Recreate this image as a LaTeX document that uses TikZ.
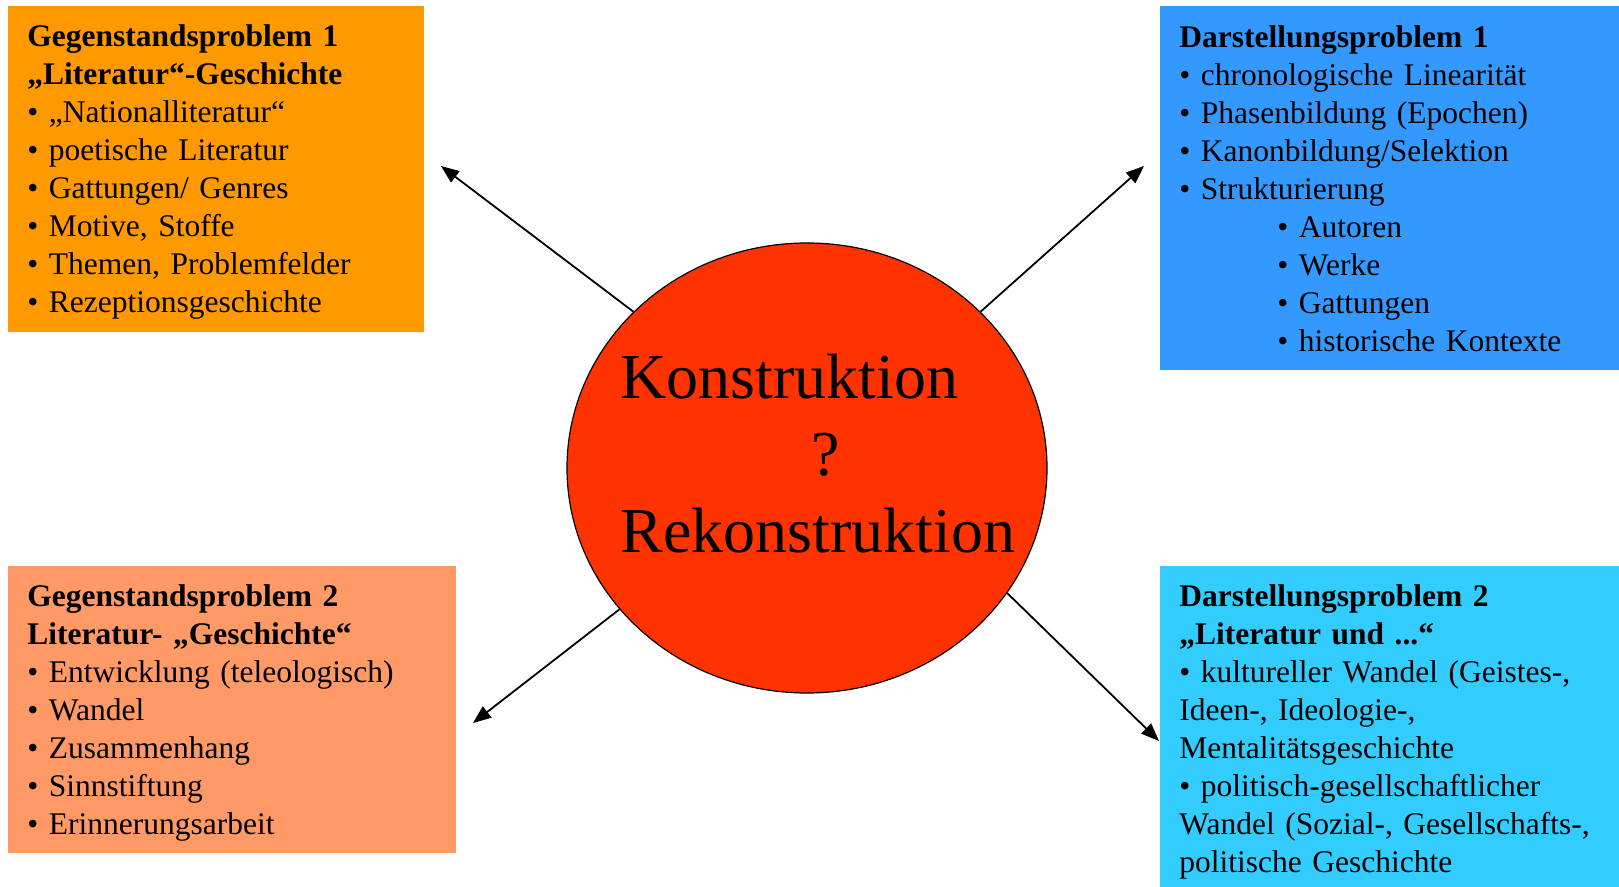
\documentclass[tikz,border=0pt]{standalone}
\usepackage{fontspec}
\setmainfont{Liberation Serif}
\usetikzlibrary{arrows.meta,shapes.geometric}
\definecolor{gpone}{HTML}{FF9900}
\definecolor{gptwo}{HTML}{FF9966}
\definecolor{dpone}{HTML}{3399FF}
\definecolor{dptwo}{HTML}{33CCFF}
\definecolor{kern}{HTML}{FF3300}
\begin{document}
\begin{tikzpicture}[x=0.5pt, y=-0.5pt,
  panel/.style={rectangle, inner sep=0pt, outer sep=0pt, anchor=north west},
  paneltext/.style={anchor=base west, inner sep=0pt, text width=230pt, align=left, font=\fontsize{15.75}{19}\selectfont},
  pfeil/.style={-{Triangle[length=9pt,width=7pt]}, line width=0.9pt}]
\useasboundingbox (0,0) rectangle (1619,887);
% the four panels
\node[panel, fill=gpone, minimum width=208pt, minimum height=163pt] (GP1) at (8,6) {};
\node[panel, fill=dpone, minimum width=229.5pt, minimum height=182pt] (DP1) at (1160,6) {};
\node[panel, fill=gptwo, minimum width=224pt, minimum height=143.5pt] (GP2) at (8,566) {};
\node[panel, fill=dptwo, minimum width=229.5pt, minimum height=160.5pt] (DP2) at (1160,566) {};
\node[paneltext] (GP1text) at (27,47) {\textbf{Gegenstandsproblem 1}\\
  \textbf{„Literatur“-Geschichte}\\
  • „Nationalliteratur“\\
  • poetische Literatur\\
  • Gattungen/ Genres\\
  • Motive, Stoffe\\
  • Themen, Problemfelder\\
  • Rezeptionsgeschichte};
\node[paneltext] (DP1text) at (1179,48) {\textbf{Darstellungsproblem 1}\\
  • chronologische Linearität\\
  • Phasenbildung (Epochen)\\
  • Kanonbildung/Selektion\\
  • Strukturierung\\
  \hspace*{49pt}• Autoren\\
  \hspace*{49pt}• Werke\\
  \hspace*{49pt}• Gattungen\\
  \hspace*{49pt}• historische Kontexte};
\node[paneltext] (GP2text) at (27,607) {\textbf{Gegenstandsproblem 2}\\
  \textbf{Literatur- „Geschichte“}\\
  • Entwicklung (teleologisch)\\
  • Wandel\\
  • Zusammenhang\\
  • Sinnstiftung\\
  • Erinnerungsarbeit};
\node[paneltext] (DP2text) at (1179,607) {\textbf{Darstellungsproblem 2}\\
  \textbf{„Literatur und ...“}\\
  • kultureller Wandel (Geistes-,\\
  Ideen-, Ideologie-,\\
  Mentalitätsgeschichte\\
  • politisch-gesellschaftlicher\\
  Wandel (Sozial-, Gesellschafts-,\\
  politische Geschichte};
% centre
\node[ellipse, draw, fill=kern, line width=0.6pt, minimum width=240pt, minimum height=225pt] (K) at (807,468) {};
\node[anchor=base west, inner sep=0pt, text width=240pt, align=left, font=\fontsize{32}{38.5}\selectfont] (Ktext) at (620,399) {Konstruktion\\
  \hspace*{95.5pt}?\\
  Rekonstruktion};
% arrows
\coordinate (T1) at (441,166);
\coordinate (T2) at (1144,166);
\coordinate (T3) at (473,723);
\coordinate (T4) at (1159,741);
\draw[pfeil] (K.138) -- (T1);
\draw[pfeil] (K.42) -- (T2);
\draw[pfeil] (K.217) -- (T3);
\draw[pfeil] (K.328) -- (T4);
\end{tikzpicture}
\end{document}
